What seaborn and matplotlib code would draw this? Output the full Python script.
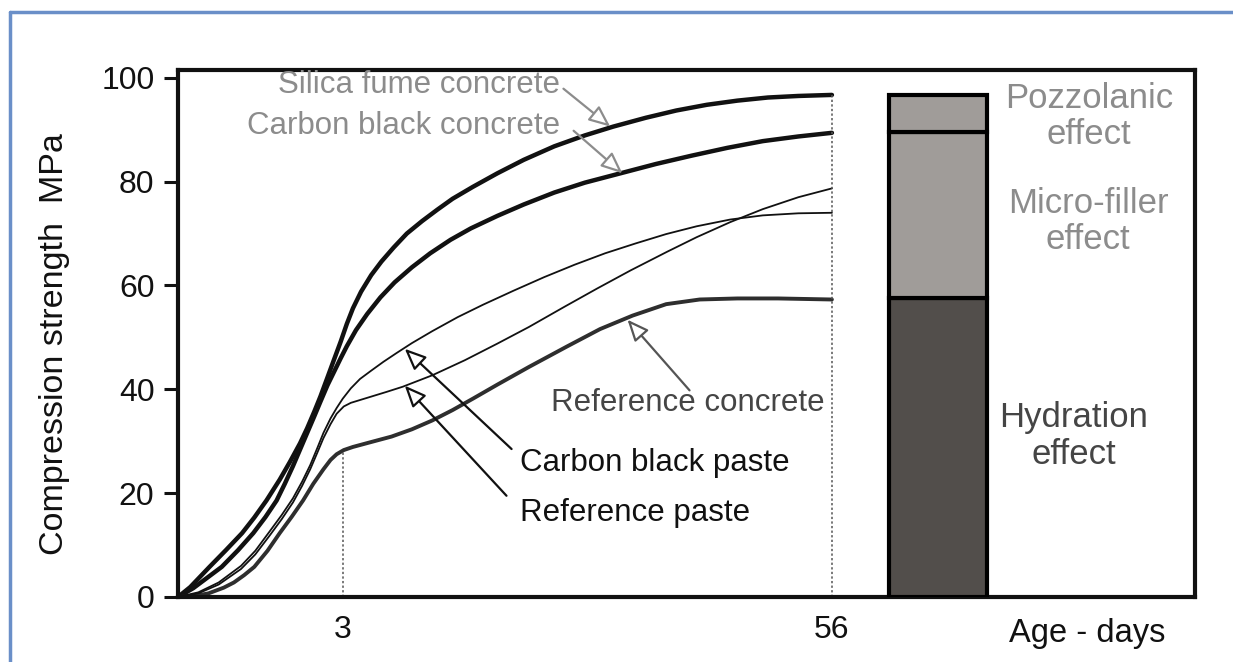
import numpy as np
import pandas as pd
import matplotlib
matplotlib.use("Agg")
import matplotlib.pyplot as plt
import seaborn as sns
from matplotlib.lines import Line2D

sns.set_theme(style="white")
plt.rcParams['font.family'] = ['Liberation Sans', 'DejaVu Sans']

# ---- data (schematic age axis position 0-100, strength in MPa) ----
silica_x = [0, 1.2, 3.1, 4.7, 6.3, 7.5, 8.7, 10.0, 11.0, 12.0, 12.7, 13.4, 14.0, 14.7, 15.3, 16.0,
            16.6, 17.2, 18.0, 19.0, 20.0, 21.2, 22.5, 24.0, 25.5, 27.0, 29.0, 31.4, 34.0, 37.0,
            40.0, 42.8, 46.0, 49.0, 52.0, 55.0, 58.0, 61.0, 64.3]
silica_y = [0, 1.9, 5.8, 9.0, 12.3, 15.3, 18.6, 22.6, 26.0, 29.6, 32.5, 35.7, 38.6, 42.3, 45.5, 49.2,
            52.6, 55.6, 58.8, 62.0, 64.6, 67.3, 70.0, 72.4, 74.6, 76.7, 79.0, 81.6, 84.2, 86.8,
            88.9, 90.6, 92.3, 93.7, 94.8, 95.6, 96.2, 96.5, 96.7]

cbconc_x = [0, 1.5, 4.3, 5.9, 7.4, 8.6, 9.7, 10.5, 11.3, 12.0, 12.7, 13.4, 14.0, 14.7, 15.4, 16.0,
            16.6, 17.5, 18.6, 19.9, 21.3, 23.0, 24.8, 26.8, 28.8, 31.4, 34.0, 37.0, 40.0, 43.5,
            47.0, 50.5, 54.0, 57.5, 61.0, 64.3]
cbconc_y = [0, 1.7, 5.8, 9.0, 12.3, 15.4, 18.6, 21.8, 25.2, 28.4, 31.6, 34.8, 37.6, 40.8, 43.6, 46.0,
            48.3, 51.4, 54.5, 57.7, 60.6, 63.5, 66.2, 68.8, 71.0, 73.4, 75.6, 77.9, 79.8, 81.6,
            83.4, 85.0, 86.5, 87.8, 88.7, 89.4]

refconc_x = [0, 1.5, 3.0, 4.5, 5.5, 6.5, 7.5, 8.8, 10.0, 11.2, 12.3, 13.3, 14.3, 15.0, 15.6, 16.3,
             17.2, 18.9, 21.0, 23.0, 25.0, 27.0, 29.0, 31.4, 34.5, 38.2, 41.5, 44.7, 48.0, 51.3,
             55.0, 59.0, 64.3]
refconc_y = [0, 0.15, 0.7, 1.8, 2.8, 4.2, 5.8, 8.9, 12.3, 15.5, 18.6, 21.8, 24.6, 26.4, 27.5, 28.3,
             28.9, 29.8, 30.9, 32.3, 34.0, 36.0, 38.2, 40.9, 44.3, 48.2, 51.6, 54.2, 56.4, 57.3,
             57.5, 57.5, 57.3]

cbpaste_x = [0, 2.0, 4.0, 6.2, 7.6, 9.0, 10.2, 11.3, 12.2, 13.0, 13.7, 14.3, 15.0, 15.6, 16.2, 17.0,
             17.9, 19.0, 20.2, 21.5, 23.0, 25.0, 27.5, 30.0, 33.0, 36.0, 39.0, 42.0, 45.0, 48.0,
             51.0, 54.3, 57.5, 61.0, 64.3]
cbpaste_y = [0, 0.9, 2.8, 6.0, 8.9, 12.6, 15.8, 19.0, 22.2, 25.4, 28.7, 31.6, 34.4, 36.4, 38.2, 40.2,
             42.0, 43.6, 45.3, 47.0, 48.9, 51.2, 53.9, 56.3, 59.0, 61.6, 64.0, 66.2, 68.1, 69.9,
             71.4, 72.7, 73.5, 73.9, 74.0]

refpaste_x = [0, 2.0, 4.0, 6.2, 7.6, 9.0, 10.2, 11.3, 12.2, 13.0, 13.7, 14.3, 15.0, 15.6, 16.3, 17.0,
              18.0, 19.0, 20.5, 22.1, 25.0, 28.2, 31.4, 34.5, 38.0, 41.2, 44.5, 48.1, 51.0, 54.3,
              57.5, 61.0, 64.3]
refpaste_y = [0, 0.7, 2.4, 5.4, 8.2, 11.8, 15.0, 18.2, 21.4, 24.6, 27.8, 30.6, 33.3, 35.3, 36.7, 37.4,
              38.0, 38.6, 39.5, 40.5, 42.7, 45.6, 48.8, 52.0, 55.9, 59.4, 62.9, 66.5, 69.3, 72.2,
              74.7, 77.0, 78.7]

tick_pos = [16.2, 64.3]
tick_labels = ["3", "56"]
y_ticks = [0, 20, 40, 60, 80, 100]

bar_labels = ["Hydration\neffect", "Micro-filler\neffect", "Pozzolanic\neffect"]
bar_heights = [57.5, 32.0, 7.2]

# ---- figure ----
fig = plt.figure(figsize=(12.33, 6.62), dpi=100)
ax = fig.add_axes([178/1233, 1-597/662, (1195-178)/1233, (597-70)/662])

series = [
    ("Silica fume concrete", silica_x, silica_y, 3.2, "#111111"),
    ("Carbon black concrete", cbconc_x, cbconc_y, 3.2, "#111111"),
    ("Reference concrete", refconc_x, refconc_y, 2.8, "#2e2e2e"),
    ("Carbon black paste", cbpaste_x, cbpaste_y, 1.3, "#111111"),
    ("Reference paste", refpaste_x, refpaste_y, 1.3, "#111111"),
]
for name, xs, ys, lw, col in series:
    df = pd.DataFrame({"age": xs, "strength": ys})
    sns.lineplot(data=df, x="age", y="strength", ax=ax, color=col, lw=lw,
                 estimator=None, sort=False, solid_joinstyle="round")

# dotted guides
y3 = np.interp(tick_pos[0], refconc_x, refconc_y)
ax.plot([tick_pos[0], tick_pos[0]], [0, y3], ls=(0, (1.5, 1.5)), color="#555555", lw=1.1)
ax.plot([tick_pos[1], tick_pos[1]], [0, silica_y[-1]], ls=(0, (1.5, 1.5)), color="#555555", lw=1.1)

# stacked bar
bar_colors = ["#524e4b", "#a09c99", "#a09c99"]
bottom = 0
for h, c in zip(bar_heights, bar_colors):
    ax.bar(74.7, h, bottom=bottom, width=9.6, color=c, edgecolor="black", linewidth=3, zorder=3)
    bottom += h

ax.set_xlim(0, 100)
ax.set_ylim(0, 101.5)
ax.set_yticks(y_ticks)
ax.set_xticks(tick_pos)
ax.set_xticklabels(tick_labels)
ax.tick_params(axis="y", direction="out", length=10, width=2.2, colors="#111111",
               labelsize=23, pad=7, left=True)
ax.tick_params(axis="x", length=0, labelsize=23, pad=13, colors="#111111")
ax.set_xlabel("")
ax.set_ylabel("Compression strength  MPa", fontsize=24.5, color="#111111")
ax.yaxis.set_label_coords(-0.106, 0.48)
for sp in ax.spines.values():
    sp.set_linewidth(3)
    sp.set_color("#111111")

ax.text(89.4, -7.0, "Age - days", fontsize=23.5, ha="center", va="center", color="#111111", clip_on=False)

gray = "#8c8c8c"
dark = "#454545"
fs = 22.5
ax.text(37.6, 98.6, "Silica fume concrete", fontsize=fs, ha="right", va="center", color=gray)
ax.text(37.6, 90.8, "Carbon black concrete", fontsize=fs, ha="right", va="center", color=gray)
ax.text(63.6, 37.4, "Reference concrete", fontsize=fs, ha="right", va="center", color=dark)
ax.text(33.6, 25.8, "Carbon black paste", fontsize=fs, ha="left", va="center", color="#111111")
ax.text(33.6, 16.2, "Reference paste", fontsize=fs, ha="left", va="center", color="#111111")

fs2 = 25
ax.text(89.6, 92.6, bar_labels[2], fontsize=fs2, ha="center", va="center", color=gray, linespacing=1.12)
ax.text(89.5, 72.3, bar_labels[1], fontsize=fs2, ha="center", va="center", color=gray, linespacing=1.12)
ax.text(88.1, 31.0, bar_labels[0], fontsize=fs2, ha="center", va="center", color=dark, linespacing=1.12)

def arrow(start, tip, col):
    ax.annotate("", xy=tip, xytext=start,
                arrowprops=dict(arrowstyle="-|>,head_length=0.65,head_width=0.28",
                                fc="white", ec=col, lw=1.6, shrinkA=0, shrinkB=0,
                                mutation_scale=20))

arrow((37.9, 97.9), (42.5, 90.6), gray)
arrow((38.9, 89.8), (43.7, 81.6), gray)
arrow((50.3, 39.8), (44.2, 53.4), "#555555")
arrow((32.8, 28.5), (22.3, 47.8), "#111111")
arrow((32.3, 19.5), (22.3, 40.7), "#111111")

# outer blue frame (top and left edges)
fig.add_artist(Line2D([10/1233, 10/1233], [0, 1-12/662], transform=fig.transFigure, color="#6a8fc8", lw=2.5))
fig.add_artist(Line2D([10/1233, 1], [1-12/662, 1-12/662], transform=fig.transFigure, color="#6a8fc8", lw=2.5))

fig.savefig("out.png", dpi=100, facecolor="white")
